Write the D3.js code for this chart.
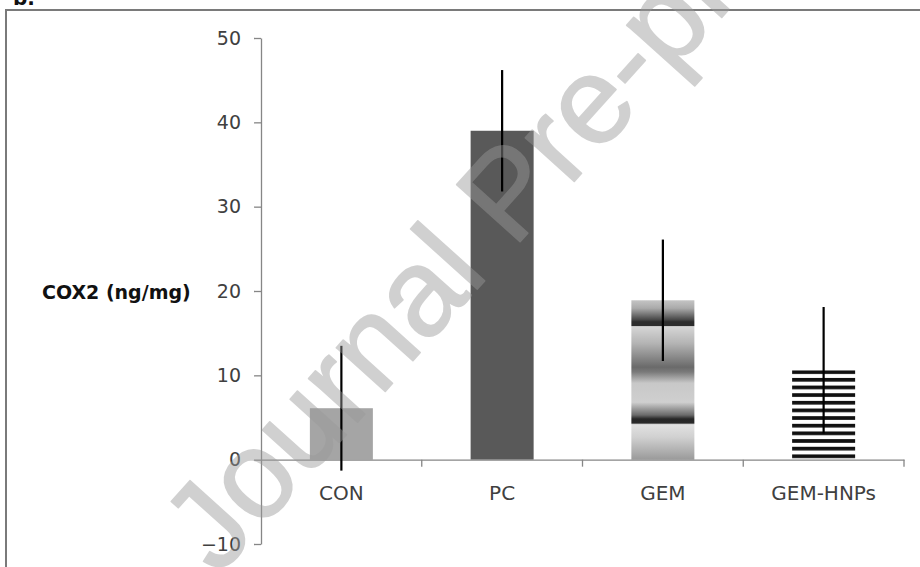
<!DOCTYPE html>
<html>
<head>
<meta charset="utf-8">
<script src="https://cdn.jsdelivr.net/npm/d3@7"></script>
<style>
  body { margin: 0; background: #fff; }
  svg { display: block; }
</style>
</head>
<body>
<svg id="chart" width="920" height="567"></svg>
<script>
const categories = ['CON', 'PC', 'GEM', 'GEM-HNPs'];
const means = [6.1, 39.0, 18.9, 10.6];
const errors = [7.4, 7.2, 7.2, 7.5];
const yTicks = [-10, 0, 10, 20, 30, 40, 50];
const fills = ['#a5a5a5', '#595959', 'url(#gemFill)', 'url(#stripes)'];

const svg = d3.select('#chart');

const y = d3.scaleLinear().domain([-10, 50]).range([544, 38]);
const x = d3.scaleBand().domain(categories).range([261, 904]);
const barW = 63;

/* fills for the patterned bars */
const defs = svg.append('defs');
const grad = defs.append('linearGradient')
  .attr('id', 'gemFill')
  .attr('x1', 0).attr('y1', 0).attr('x2', 0).attr('y2', 1);
[
  [0, '#c4c4c4'], [0.05, '#aaaaaa'], [0.12, '#4a4a4a'], [0.135, '#2c2c2c'],
  [0.16, '#2c2c2c'], [0.165, '#d6d6d6'], [0.27, '#b4b4b4'], [0.42, '#6a6a6a'],
  [0.45, '#7a7a7a'], [0.52, '#c8c8c8'], [0.64, '#cfcfcf'], [0.72, '#6a6a6a'],
  [0.745, '#262626'], [0.77, '#2a2a2a'], [0.78, '#e2e2e2'], [0.86, '#d0d0d0'],
  [1, '#9a9a9a']
].forEach(([o, c]) => grad.append('stop').attr('offset', o).attr('stop-color', c));

const pat = defs.append('pattern')
  .attr('id', 'stripes')
  .attr('patternUnits', 'userSpaceOnUse')
  .attr('width', 10).attr('height', 7.65)
  .attr('y', y(means[3]));
pat.append('rect').attr('width', 10).attr('height', 7.65).attr('fill', '#fff');
pat.append('rect').attr('width', 10).attr('height', 3.7).attr('fill', '#111');

/* outer frame */
svg.append('path')
  .attr('d', 'M6,567V10H920')
  .attr('fill', 'none')
  .attr('stroke', '#7a7a7a')
  .attr('stroke-width', 2);

svg.append('text')
  .attr('x', 13).attr('y', 5)
  .attr('font-family', 'DejaVu Sans')
  .attr('font-weight', 'bold')
  .attr('font-size', 20)
  .attr('fill', '#111')
  .text('b.');

/* bars */
svg.append('g').selectAll('rect')
  .data(categories)
  .join('rect')
  .attr('x', (d) => x(d) + (x.bandwidth() - barW) / 2)
  .attr('y', (d, i) => y(means[i]))
  .attr('width', barW)
  .attr('height', (d, i) => y(0) - y(means[i]))
  .attr('fill', (d, i) => fills[i]);

/* y axis */
const yAxis = svg.append('g')
  .attr('transform', `translate(${x.range()[0]},0)`)
  .call(d3.axisLeft(y).tickValues(yTicks).tickSize(7).tickSizeOuter(0).tickPadding(13));
yAxis.select('.domain').attr('stroke', '#868686').attr('stroke-width', 1.3);
yAxis.selectAll('.tick line').attr('stroke', '#868686').attr('stroke-width', 1.3);
yAxis.selectAll('.tick text')
  .attr('font-family', 'DejaVu Sans')
  .attr('font-size', 19)
  .attr('fill', '#404040');

/* x axis */
const xAxis = svg.append('g')
  .attr('transform', `translate(0,${y(0)})`)
  .call(d3.axisBottom(x).tickSize(0).tickSizeOuter(0).tickPadding(26));
xAxis.select('.domain').attr('stroke', '#868686').attr('stroke-width', 1.3);
xAxis.selectAll('.tick text')
  .attr('font-family', 'DejaVu Sans')
  .attr('font-size', 20)
  .attr('fill', '#404040');
xAxis.selectAll('.sep')
  .data(categories)
  .join('line')
  .attr('class', 'sep')
  .attr('x1', (d) => x(d) + x.bandwidth())
  .attr('x2', (d) => x(d) + x.bandwidth())
  .attr('y1', 0).attr('y2', 7)
  .attr('stroke', '#868686')
  .attr('stroke-width', 1.3);

/* error bars */
svg.append('g').selectAll('line')
  .data(categories)
  .join('line')
  .attr('x1', (d) => x(d) + x.bandwidth() / 2)
  .attr('x2', (d) => x(d) + x.bandwidth() / 2)
  .attr('y1', (d, i) => y(means[i] + errors[i]))
  .attr('y2', (d, i) => y(means[i] - errors[i]))
  .attr('stroke', '#000')
  .attr('stroke-width', 2.2);

/* y title */
svg.append('text')
  .attr('x', 42).attr('y', 299)
  .attr('font-family', 'DejaVu Sans')
  .attr('font-weight', 'bold')
  .attr('font-size', 19)
  .attr('fill', '#111')
  .text('COX2 (ng/mg)');

/* watermark */
svg.append('text')
  .attr('transform', 'translate(218,577) rotate(-48)')
  .attr('font-family', 'Liberation Sans')
  .attr('font-size', 124)
  .attr('fill', '#999')
  .attr('stroke', '#999')
  .attr('stroke-width', 1.6)
  .attr('stroke-linejoin', 'round')
  .attr('opacity', 0.45)
  .text('Journal Pre-proof');
</script>
</body>
</html>
